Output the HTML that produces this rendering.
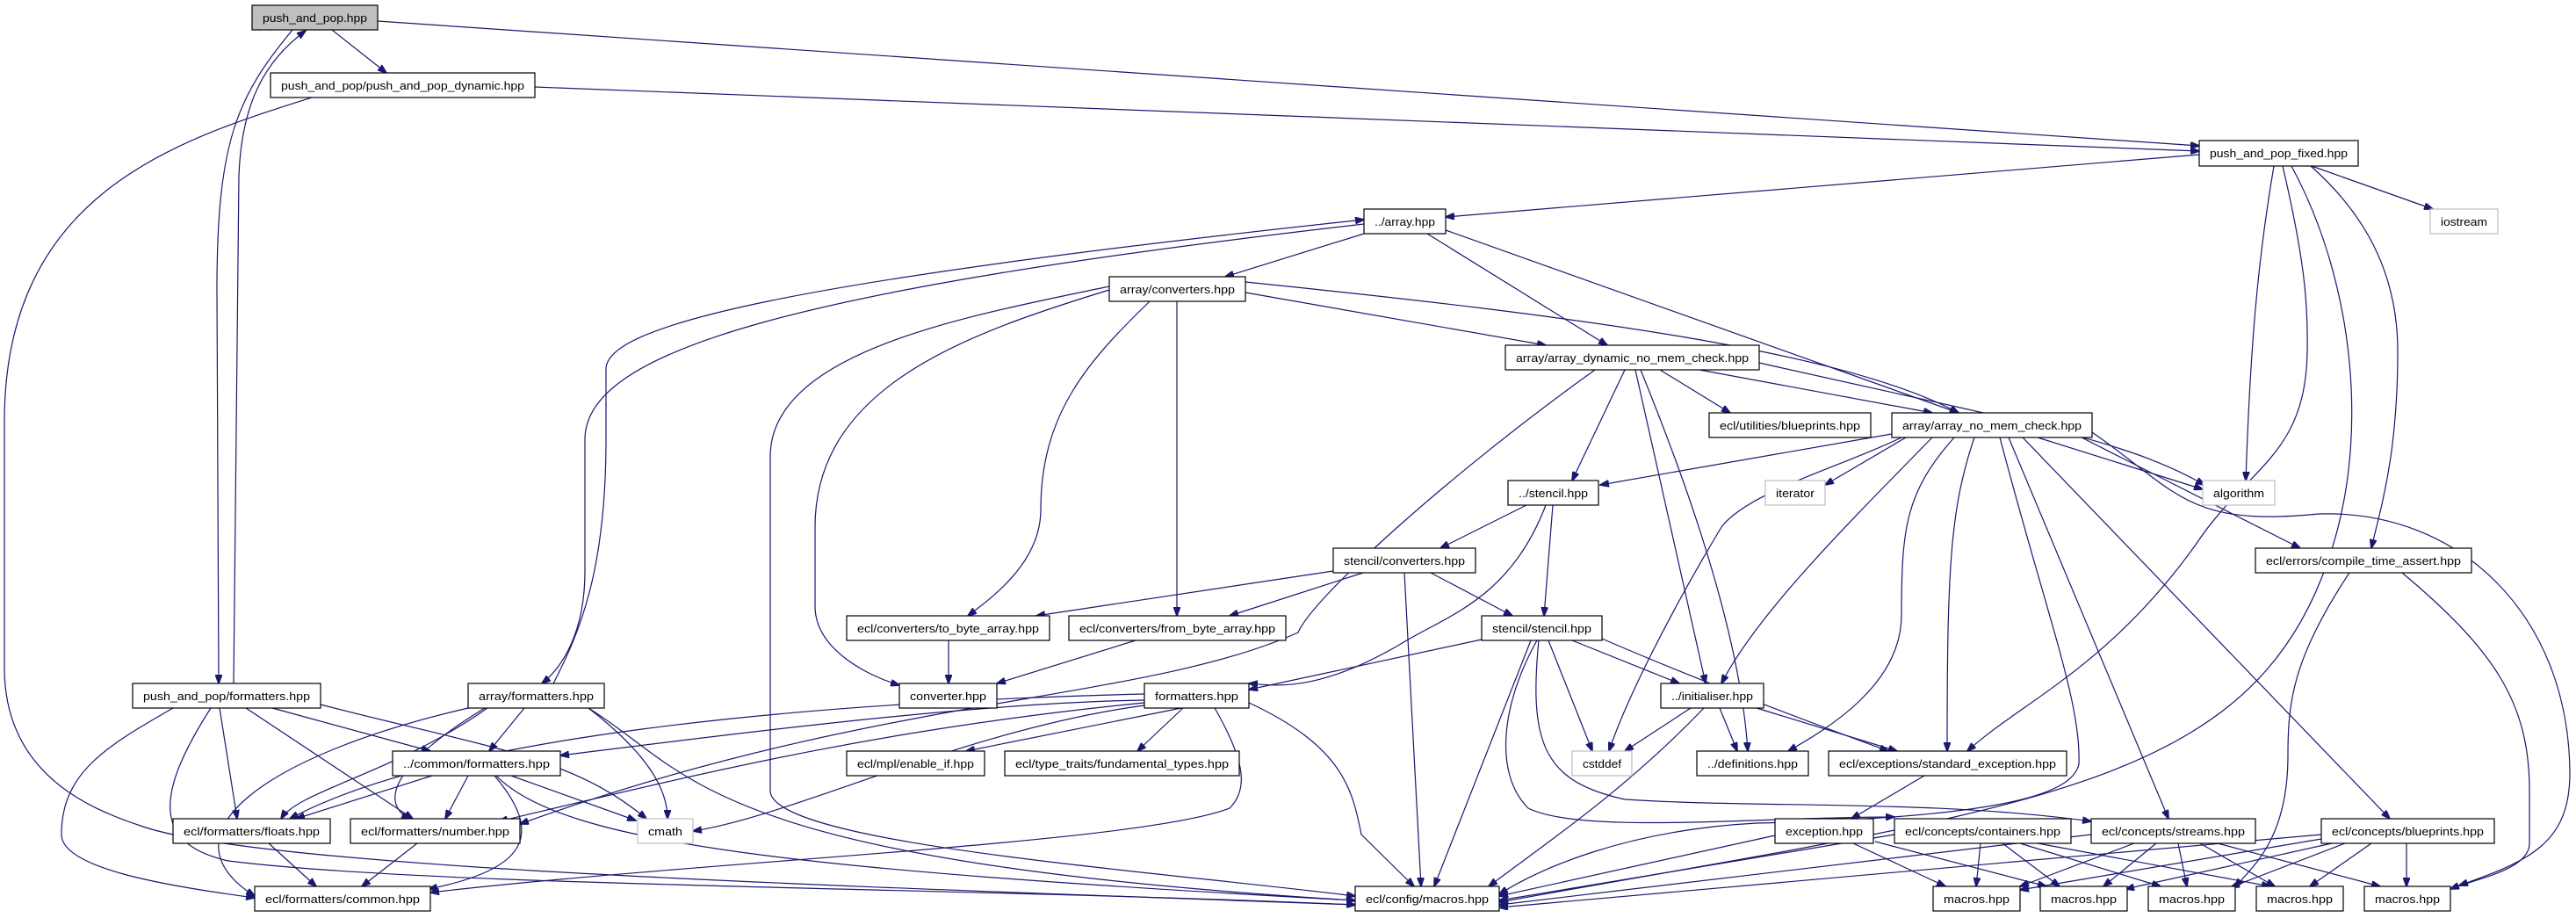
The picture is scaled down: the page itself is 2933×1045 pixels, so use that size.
<!DOCTYPE html>
<html><head><meta charset="utf-8"><style>
html,body{margin:0;padding:0;background:#fff}
svg{display:block}
text{font-family:"Liberation Sans",sans-serif;font-size:13px;fill:#000}
.e{fill:none;stroke:#191970;stroke-width:1.2}
.n{fill:#fff;stroke:#000;stroke-width:1.2}
.g{fill:#fff;stroke:#bfbfbf;stroke-width:1.2}
</style></head><body>
<svg width="2933" height="1045" viewBox="0 0 2933 1045" xmlns="http://www.w3.org/2000/svg">
<defs><marker id="a" markerUnits="userSpaceOnUse" markerWidth="11" markerHeight="8" refX="10" refY="4" orient="auto"><path d="M0,0 L11,4 L0,8 z" fill="#191970" stroke="#191970"/></marker></defs>
<g class="e" marker-end="url(#a)">
<path d="M378,34 L440,83"/>
<path d="M430,24 L2504,166"/>
<path d="M333,34 C270,110 247,160 247,330 L249,778"/>
<path d="M266,778 C270,500 270,300 272,200 C275,120 300,70 348,35"/>
<path d="M609,99 L2504,172"/>
<path d="M355,111 C200,160 5,220 5,480 L5,760 C5,880 100,920 160,940 C300,990 1000,1010 1543,1030"/>
<path d="M2504,176 L1646,247"/>
<path d="M2632,189 L2770,238"/>
<path d="M2589,189 C2570,300 2562,400 2557,547"/>
<path d="M2631,189 C2700,250 2730,320 2730,400 C2730,520 2710,580 2700,624"/>
<path d="M2599,189 C2625,300 2628,350 2627,400 C2625,520 2560,530 2500,620 C2400,760 2300,800 2240,855"/>
<path d="M2609,189 C2680,320 2700,500 2650,640 C2560,900 2300,920 1707,1027"/>
<path d="M1553,266 L1395,315"/>
<path d="M1625,266 L1830,393"/>
<path d="M1646,262 L2230,470"/>
<path d="M1553,255 C900,330 666,400 666,500 L666,650 C666,720 640,760 617,778"/>
<path d="M630,778 C660,720 690,650 690,500 L690,420 C690,370 900,320 1553,250"/>
<path d="M1418,333 L1760,393"/>
<path d="M1418,321 C1800,360 2100,400 2230,470"/>
<path d="M1263,326 C1100,360 877,400 877,520 L877,900 C877,960 1300,990 1543,1020"/>
<path d="M1263,330 C1100,380 928,440 928,600 L928,690 C928,740 990,770 1024,780"/>
<path d="M1309,343 C1240,410 1185,470 1185,580 C1185,640 1130,680 1102,701"/>
<path d="M1340,343 L1340,701"/>
<path d="M1890,421 L1970,470"/>
<path d="M1935,421 L2200,470"/>
<path d="M2003,413 C2300,480 2420,500 2510,552"/>
<path d="M1850,421 L1790,547"/>
<path d="M1862,421 L1942,778"/>
<path d="M1868,421 C1900,500 1980,700 1990,855"/>
<path d="M1816,421 C1650,540 1495,680 1478,720 C1300,800 1000,790 592,938"/>
<path d="M2170,498 L2078,552"/>
<path d="M2320,498 L2508,557"/>
<path d="M2154,494 L1822,552"/>
<path d="M2200,498 C2100,600 2000,700 1960,778"/>
<path d="M2165,498 C2100,530 1990,560 1960,600 C1900,700 1850,800 1832,855"/>
<path d="M2225,498 C2170,560 2165,600 2165,700 C2165,780 2080,830 2036,855"/>
<path d="M2248,498 C2220,580 2217,650 2217,855"/>
<path d="M2277,498 C2330,700 2370,800 2367,870 C2360,900 2300,930 2000,937 C1850,945 1750,990 1707,1018"/>
<path d="M2287,498 L2469,932"/>
<path d="M2303,498 L2721,932"/>
<path d="M2370,498 L2619,624"/>
<path d="M2382,492 C2480,560 2490,600 2640,585 C2800,580 2925,700 2926,880 C2926,960 2880,980 2800,1008"/>
<path d="M1738,575 L1640,624"/>
<path d="M1768,575 L1758,701"/>
<path d="M1760,575 C1720,680 1650,700 1600,730 C1500,790 1450,780 1422,778"/>
<path d="M1518,650 L1180,701"/>
<path d="M1552,652 L1400,701"/>
<path d="M1629,652 L1722,701"/>
<path d="M1599,652 L1618,1009"/>
<path d="M1687,728 L1422,785"/>
<path d="M1790,729 L1912,778"/>
<path d="M1763,729 L1813,855"/>
<path d="M1824,727 C1900,760 2000,800 2150,855"/>
<path d="M1743,729 L1633,1009"/>
<path d="M1750,729 C1710,800 1700,880 1740,920 C1800,950 2000,930 2157,930"/>
<path d="M1752,729 C1740,850 1760,890 1850,910 C2000,920 2200,910 2381,935"/>
<path d="M1925,806 L1850,855"/>
<path d="M1958,806 L1978,855"/>
<path d="M2000,806 L2160,855"/>
<path d="M1940,806 C1850,900 1760,960 1695,1009"/>
<path d="M1345,806 L1100,855"/>
<path d="M1347,806 L1295,855"/>
<path d="M1303,797 C1100,800 800,840 638,860"/>
<path d="M1303,790 C900,800 500,840 330,932"/>
<path d="M1303,800 C1000,830 800,880 568,935"/>
<path d="M1303,803 C1100,830 900,930 789,946"/>
<path d="M1383,806 C1420,870 1420,900 1400,920 C1300,960 800,980 490,1016"/>
<path d="M1422,800 C1530,850 1540,900 1550,950 L1610,1009"/>
<path d="M1080,729 L1080,778"/>
<path d="M1293,729 L1135,778"/>
<path d="M2191,883 L2108,932"/>
<path d="M2110,960 L2215,1009"/>
<path d="M2135,958 L2330,1009"/>
<path d="M2021,951 L1707,1020"/>
<path d="M2255,960 L2250,1009"/>
<path d="M2280,960 L2345,1009"/>
<path d="M2300,960 L2460,1009"/>
<path d="M2320,960 L2585,1009"/>
<path d="M2157,950 L1707,1025"/>
<path d="M2430,960 L2300,1009"/>
<path d="M2455,960 L2395,1009"/>
<path d="M2480,960 L2490,1009"/>
<path d="M2505,960 L2590,1009"/>
<path d="M2525,960 L2710,1009"/>
<path d="M2381,950 L1707,1030"/>
<path d="M2643,955 L2300,1013"/>
<path d="M2655,960 L2420,1012"/>
<path d="M2670,960 L2540,1010"/>
<path d="M2700,960 L2630,1009"/>
<path d="M2740,960 L2740,1009"/>
<path d="M2643,950 L1707,1033"/>
<path d="M2675,652 C2610,750 2605,800 2605,860 C2605,960 2560,990 2545,1010"/>
<path d="M2735,652 C2840,740 2880,800 2880,900 L2880,960 C2880,990 2820,1000 2790,1012"/>
<path d="M250,806 L270,932"/>
<path d="M280,806 L470,932"/>
<path d="M310,806 L490,855"/>
<path d="M365,802 C550,850 650,860 736,932"/>
<path d="M197,806 C120,850 70,880 70,950 C70,990 200,1010 290,1022"/>
<path d="M240,806 C180,900 170,960 260,980 C500,1010 1100,1010 1543,1030"/>
<path d="M597,806 L557,855"/>
<path d="M555,806 C450,880 340,900 320,932"/>
<path d="M552,806 C430,880 440,920 467,932"/>
<path d="M670,806 C740,860 760,900 760,932"/>
<path d="M533,806 C300,860 180,950 290,1020"/>
<path d="M670,806 C790,880 800,980 1543,1025"/>
<path d="M492,883 L337,932"/>
<path d="M533,883 L507,932"/>
<path d="M582,883 L724,934"/>
<path d="M563,883 C620,950 600,990 488,1012"/>
<path d="M565,883 C640,960 900,990 1543,1025"/>
<path d="M306,960 L360,1009"/>
<path d="M475,960 L412,1009"/>
</g>
<g>
<rect x="287" y="6" width="143" height="28" fill="#bfbfbf" stroke="#000" stroke-width="1.2"/><text x="299" y="25" textLength="119" lengthAdjust="spacingAndGlyphs">push_and_pop.hpp</text>
<rect class="n" x="308" y="83" width="301" height="28"/><text x="320" y="102" textLength="277" lengthAdjust="spacingAndGlyphs">push_and_pop/push_and_pop_dynamic.hpp</text>
<rect class="n" x="2504" y="160" width="181" height="29"/><text x="2516" y="179" textLength="157" lengthAdjust="spacingAndGlyphs">push_and_pop_fixed.hpp</text>
<rect class="g" x="2767" y="238" width="77" height="28"/><text x="2779" y="257" textLength="53" lengthAdjust="spacingAndGlyphs">iostream</text>
<rect class="n" x="1553" y="238" width="93" height="28"/><text x="1565" y="257" textLength="69" lengthAdjust="spacingAndGlyphs">../array.hpp</text>
<rect class="n" x="1263" y="315" width="155" height="28"/><text x="1275" y="334" textLength="131" lengthAdjust="spacingAndGlyphs">array/converters.hpp</text>
<rect class="n" x="1714" y="393" width="289" height="28"/><text x="1726" y="412" textLength="265" lengthAdjust="spacingAndGlyphs">array/array_dynamic_no_mem_check.hpp</text>
<rect class="n" x="1946" y="470" width="184" height="28"/><text x="1958" y="489" textLength="160" lengthAdjust="spacingAndGlyphs">ecl/utilities/blueprints.hpp</text>
<rect class="n" x="2154" y="470" width="228" height="28"/><text x="2166" y="489" textLength="204" lengthAdjust="spacingAndGlyphs">array/array_no_mem_check.hpp</text>
<rect class="n" x="1717" y="547" width="103" height="28"/><text x="1729" y="566" textLength="79" lengthAdjust="spacingAndGlyphs">../stencil.hpp</text>
<rect class="g" x="2010" y="547" width="68" height="28"/><text x="2022" y="566" textLength="44" lengthAdjust="spacingAndGlyphs">iterator</text>
<rect class="g" x="2508" y="547" width="82" height="28"/><text x="2520" y="566" textLength="58" lengthAdjust="spacingAndGlyphs">algorithm</text>
<rect class="n" x="1518" y="624" width="162" height="28"/><text x="1530" y="643" textLength="138" lengthAdjust="spacingAndGlyphs">stencil/converters.hpp</text>
<rect class="n" x="2568" y="624" width="246" height="28"/><text x="2580" y="643" textLength="222" lengthAdjust="spacingAndGlyphs">ecl/errors/compile_time_assert.hpp</text>
<rect class="n" x="964" y="701" width="231" height="28"/><text x="976" y="720" textLength="207" lengthAdjust="spacingAndGlyphs">ecl/converters/to_byte_array.hpp</text>
<rect class="n" x="1217" y="701" width="247" height="28"/><text x="1229" y="720" textLength="223" lengthAdjust="spacingAndGlyphs">ecl/converters/from_byte_array.hpp</text>
<rect class="n" x="1687" y="701" width="137" height="28"/><text x="1699" y="720" textLength="113" lengthAdjust="spacingAndGlyphs">stencil/stencil.hpp</text>
<rect class="n" x="151" y="778" width="214" height="28"/><text x="163" y="797" textLength="190" lengthAdjust="spacingAndGlyphs">push_and_pop/formatters.hpp</text>
<rect class="n" x="533" y="778" width="155" height="28"/><text x="545" y="797" textLength="131" lengthAdjust="spacingAndGlyphs">array/formatters.hpp</text>
<rect class="n" x="1024" y="778" width="111" height="28"/><text x="1036" y="797" textLength="87" lengthAdjust="spacingAndGlyphs">converter.hpp</text>
<rect class="n" x="1303" y="778" width="119" height="28"/><text x="1315" y="797" textLength="95" lengthAdjust="spacingAndGlyphs">formatters.hpp</text>
<rect class="n" x="1891" y="778" width="117" height="28"/><text x="1903" y="797" textLength="93" lengthAdjust="spacingAndGlyphs">../initialiser.hpp</text>
<rect class="n" x="447" y="855" width="191" height="28"/><text x="459" y="874" textLength="167" lengthAdjust="spacingAndGlyphs">../common/formatters.hpp</text>
<rect class="n" x="964" y="855" width="157" height="28"/><text x="976" y="874" textLength="133" lengthAdjust="spacingAndGlyphs">ecl/mpl/enable_if.hpp</text>
<rect class="n" x="1144" y="855" width="267" height="28"/><text x="1156" y="874" textLength="243" lengthAdjust="spacingAndGlyphs">ecl/type_traits/fundamental_types.hpp</text>
<rect class="g" x="1790" y="855" width="68" height="28"/><text x="1802" y="874" textLength="44" lengthAdjust="spacingAndGlyphs">cstddef</text>
<rect class="n" x="1932" y="855" width="127" height="28"/><text x="1944" y="874" textLength="103" lengthAdjust="spacingAndGlyphs">../definitions.hpp</text>
<rect class="n" x="2082" y="855" width="271" height="28"/><text x="2094" y="874" textLength="247" lengthAdjust="spacingAndGlyphs">ecl/exceptions/standard_exception.hpp</text>
<rect class="n" x="197" y="932" width="179" height="28"/><text x="209" y="951" textLength="155" lengthAdjust="spacingAndGlyphs">ecl/formatters/floats.hpp</text>
<rect class="n" x="399" y="932" width="193" height="28"/><text x="411" y="951" textLength="169" lengthAdjust="spacingAndGlyphs">ecl/formatters/number.hpp</text>
<rect class="g" x="726" y="932" width="63" height="28"/><text x="738" y="951" textLength="39" lengthAdjust="spacingAndGlyphs">cmath</text>
<rect class="n" x="2021" y="932" width="112" height="28"/><text x="2033" y="951" textLength="88" lengthAdjust="spacingAndGlyphs">exception.hpp</text>
<rect class="n" x="2157" y="932" width="201" height="28"/><text x="2169" y="951" textLength="177" lengthAdjust="spacingAndGlyphs">ecl/concepts/containers.hpp</text>
<rect class="n" x="2381" y="932" width="187" height="28"/><text x="2393" y="951" textLength="163" lengthAdjust="spacingAndGlyphs">ecl/concepts/streams.hpp</text>
<rect class="n" x="2643" y="932" width="197" height="28"/><text x="2655" y="951" textLength="173" lengthAdjust="spacingAndGlyphs">ecl/concepts/blueprints.hpp</text>
<rect class="n" x="290" y="1009" width="200" height="28"/><text x="302" y="1028" textLength="176" lengthAdjust="spacingAndGlyphs">ecl/formatters/common.hpp</text>
<rect class="n" x="1543" y="1009" width="164" height="28"/><text x="1555" y="1028" textLength="140" lengthAdjust="spacingAndGlyphs">ecl/config/macros.hpp</text>
<rect class="n" x="2201" y="1009" width="99" height="28"/><text x="2213" y="1028" textLength="75" lengthAdjust="spacingAndGlyphs">macros.hpp</text>
<rect class="n" x="2323" y="1009" width="99" height="28"/><text x="2335" y="1028" textLength="75" lengthAdjust="spacingAndGlyphs">macros.hpp</text>
<rect class="n" x="2446" y="1009" width="99" height="28"/><text x="2458" y="1028" textLength="75" lengthAdjust="spacingAndGlyphs">macros.hpp</text>
<rect class="n" x="2569" y="1009" width="99" height="28"/><text x="2581" y="1028" textLength="75" lengthAdjust="spacingAndGlyphs">macros.hpp</text>
<rect class="n" x="2692" y="1009" width="98" height="28"/><text x="2704" y="1028" textLength="74" lengthAdjust="spacingAndGlyphs">macros.hpp</text>
</g>
</svg>
</body></html>
